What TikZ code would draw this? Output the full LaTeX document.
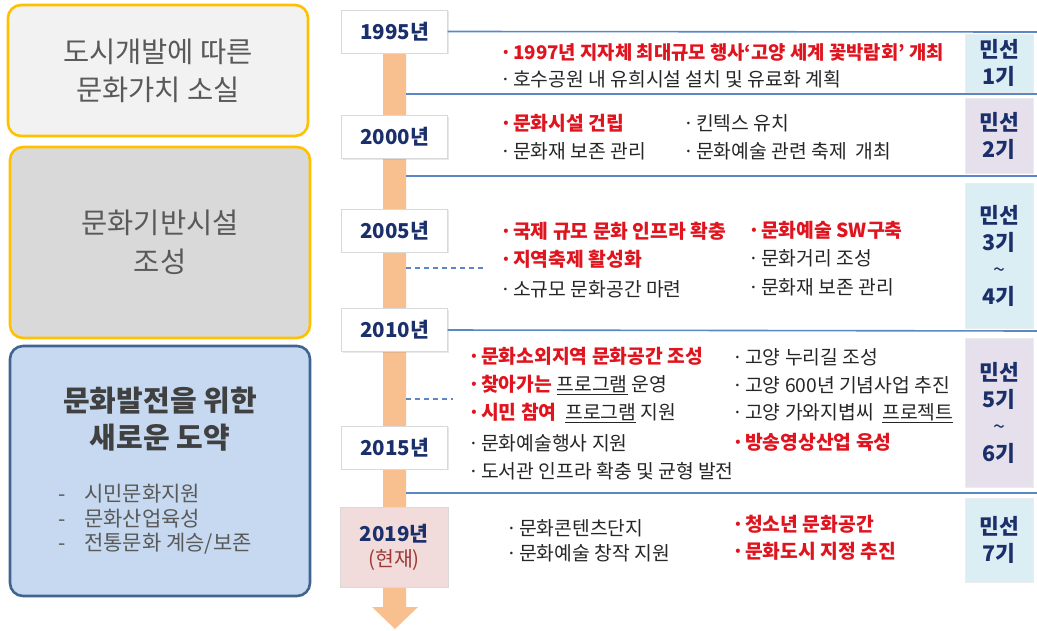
\documentclass[tikz,border=0pt]{standalone}
\usepackage{fontspec}
\setmainfont{Noto Sans CJK KR}
\usetikzlibrary{shadows}
\definecolor{gold}{HTML}{FFC000}
\definecolor{lgray}{HTML}{F2F2F2}
\definecolor{mgray}{HTML}{D9D9D9}
\definecolor{lblue}{HTML}{C6D9F1}
\definecolor{dblue}{HTML}{41638F}
\definecolor{txtgray}{HTML}{595959}
\definecolor{titlegray}{HTML}{404040}
\definecolor{navy}{HTML}{1B2F6B}
\definecolor{barorange}{HTML}{F9C08F}
\definecolor{sepblue}{HTML}{5B87C5}
\definecolor{mblue}{HTML}{DAEEF3}
\definecolor{mlav}{HTML}{E5E0EC}
\definecolor{pinkbox}{HTML}{F2DCDB}
\definecolor{nowred}{HTML}{9B3B38}
\definecolor{redtxt}{HTML}{E0141E}
\definecolor{darktxt}{HTML}{262626}
\newcommand{\bul}{\makebox[13pt][l]{·}}
\newcommand{\rt}[1]{{\color{redtxt}\bfseries #1}}
\begin{document}
\begin{tikzpicture}[x=1pt,y=-1pt,
  leftbox/.style={rounded corners=13pt, line width=2.6pt, minimum width=300, align=center, text=txtgray},
  yearbox/.style={draw=gray!30, fill=white, minimum width=106, minimum height=43, inner sep=0,
    font=\fontsize{20.5}{24}\selectfont\bfseries, text=navy, align=center,
    drop shadow={shadow xshift=1.2pt, shadow yshift=-1.2pt, opacity=0.18}},
  minbox/.style={draw=gray!15, minimum width=68, inner sep=0, align=center,
    font=\fontsize{21.5}{27}\selectfont\bfseries, text=navy},
  item/.style={anchor=west, inner sep=0, font=\fontsize{19.3}{22}\selectfont, text=darktxt},
  ritem/.style={item, text=redtxt, font=\fontsize{19.3}{22}\selectfont\bfseries},
  sep/.style={draw=sepblue, line width=1.6pt},
  dsep/.style={draw=sepblue, line width=1.2pt, dash pattern=on 5pt off 4pt}]
\useasboundingbox (0,0) rectangle (1037,630);

% left boxes
\node[leftbox, fill=lgray, draw=gold, minimum height=131,
  font=\fontsize{28.5}{38}\selectfont] (L1) at (158,70.5) {도시개발에 따른\\문화가치 소실};
\node[leftbox, fill=mgray, draw=gold, minimum height=191,
  font=\fontsize{28.5}{39}\selectfont] (L2) at (160,242.5) {문화기반시설\\조성};
\node[leftbox, fill=lblue, draw=dblue, minimum height=250] (L3) at (160,471) {};
\node[align=center, text=titlegray, font=\fontsize{29}{37}\selectfont\bfseries] (L3t) at (160,419) {문화발전을 위한\\새로운 도약};
\node[anchor=north west, align=left, inner sep=0, text=txtgray, font=\fontsize{21}{24.5}\selectfont] (L3b) at (58,484)
  {\makebox[26pt][l]{-}시민문화지원\\\makebox[26pt][l]{-}문화산업육성\\\makebox[26pt][l]{-}전통문화 계승/보존};

% timeline bar with arrow head
\fill[barorange] (383,45) -- (406,45) -- (406,607) -- (418,607) -- (395,629) -- (372,607) -- (383,607) -- cycle;

% separators
\coordinate (e1) at (1037,32);
\coordinate (b2) at (406,94);   \coordinate (e2) at (1037,94);
\coordinate (b3) at (406,176);  \coordinate (e3) at (1037,176);
\coordinate (e4) at (1037,331);
\coordinate (b5) at (406,493);  \coordinate (e5) at (1037,493);
\coordinate (d1a) at (406,268); \coordinate (d1b) at (486,268);
\coordinate (d2a) at (406,399); \coordinate (d2b) at (453,399);

% year boxes
\node[yearbox] (Y1995) at (394.5,31.5) {1995년};
\node[yearbox] (Y2000) at (394.5,137) {2000년};
\node[yearbox] (Y2005) at (394.5,230.5) {2005년};
\node[yearbox] (Y2010) at (394.5,330) {2010년};
\node[yearbox] (Y2015) at (394.5,447.5) {2015년};
\node[yearbox, fill=pinkbox, minimum width=108, minimum height=80, font=\fontsize{20.5}{26}\selectfont] (Y2019) at (394,547)
  {\bfseries 2019년\\[-1pt]{\color{nowred}(현재)}};

\draw[sep] (Y1995.east) -- (e1);
\draw[sep] (b2) -- (e2);
\draw[sep] (b3) -- (e3);
\draw[sep] (Y2010.east) -- (e4);
\draw[sep] (b5) -- (e5);
\draw[dsep] (d1a) -- (d1b);
\draw[dsep] (d2a) -- (d2b);

% right boxes
\node[minbox, fill=mblue, minimum height=58] (M1) at (999,63) {민선\\1기};
\node[minbox, fill=mlav, minimum height=75] (M2) at (999,135.5) {민선\\2기};
\node[minbox, fill=mblue, minimum height=145] (M3) at (999,255.5) {민선\\3기\\{\mdseries\string~}\\4기};
\node[minbox, fill=mlav, minimum height=149] (M4) at (999,412.5) {민선\\5기\\{\mdseries\string~}\\6기};
\node[minbox, fill=mblue, minimum height=84] (M5) at (999,540) {민선\\7기};

% 1995
\node[ritem, font=\fontsize{18.8}{22}\selectfont\bfseries] (t11) at (500,52) {\bul 1997년 지자체 최대규모 행사‘고양 세계 꽃박람회’ 개최};
\node[item] (t12) at (500,79) {\bul 호수공원 내 유희시설 설치 및 유료화 계획};
% 2000
\node[ritem] (t21) at (500,123) {\bul 문화시설 건립};
\node[item] (t22) at (500,151) {\bul 문화재 보존 관리};
\node[item] (t23) at (683,123) {\bul 킨텍스 유치};
\node[item] (t24) at (683,151) {\bul 문화예술 관련 축제\ \ 개최};
% 2005
\node[ritem] (t31) at (500,231) {\bul 국제 규모 문화 인프라 확충};
\node[ritem] (t32) at (500,259) {\bul 지역축제 활성화};
\node[item] (t33) at (500,289) {\bul 소규모 문화공간 마련};
\node[ritem] (t34) at (748,230) {\bul 문화예술 SW구축};
\node[item] (t35) at (748,258) {\bul 문화거리 조성};
\node[item] (t36) at (748,287) {\bul 문화재 보존 관리};
% 2010-2015
\node[ritem] (t41) at (468,356) {\bul 문화소외지역 문화공간 조성};
\node[item] (t42) at (468,385) {\rt{\bul 찾아가는} \underline{프로그램} 운영};
\node[item] (t43) at (468,413) {\rt{\bul 시민 참여}\ \ \underline{프로그램} 지원};
\node[item] (t44) at (468,443) {\bul 문화예술행사 지원};
\node[item] (t45) at (468,471) {\bul 도서관 인프라 확충 및 균형 발전};
\node[item] (t46) at (732,357) {\bul 고양 누리길 조성};
\node[item] (t47) at (732,385) {\bul 고양 600년 기념사업 추진};
\node[item] (t48) at (732,413) {\bul 고양 가와지볍씨\ \ \underline{프로젝트}};
\node[ritem] (t49) at (732,442) {\bul 방송영상산업 육성};
% 2019
\node[item] (t51) at (506,528) {\bul 문화콘텐츠단지};
\node[item] (t52) at (506,553) {\bul 문화예술 창작 지원};
\node[ritem] (t53) at (732,524) {\bul 청소년 문화공간};
\node[ritem] (t54) at (732,551) {\bul 문화도시 지정 추진};
\end{tikzpicture}
\end{document}
